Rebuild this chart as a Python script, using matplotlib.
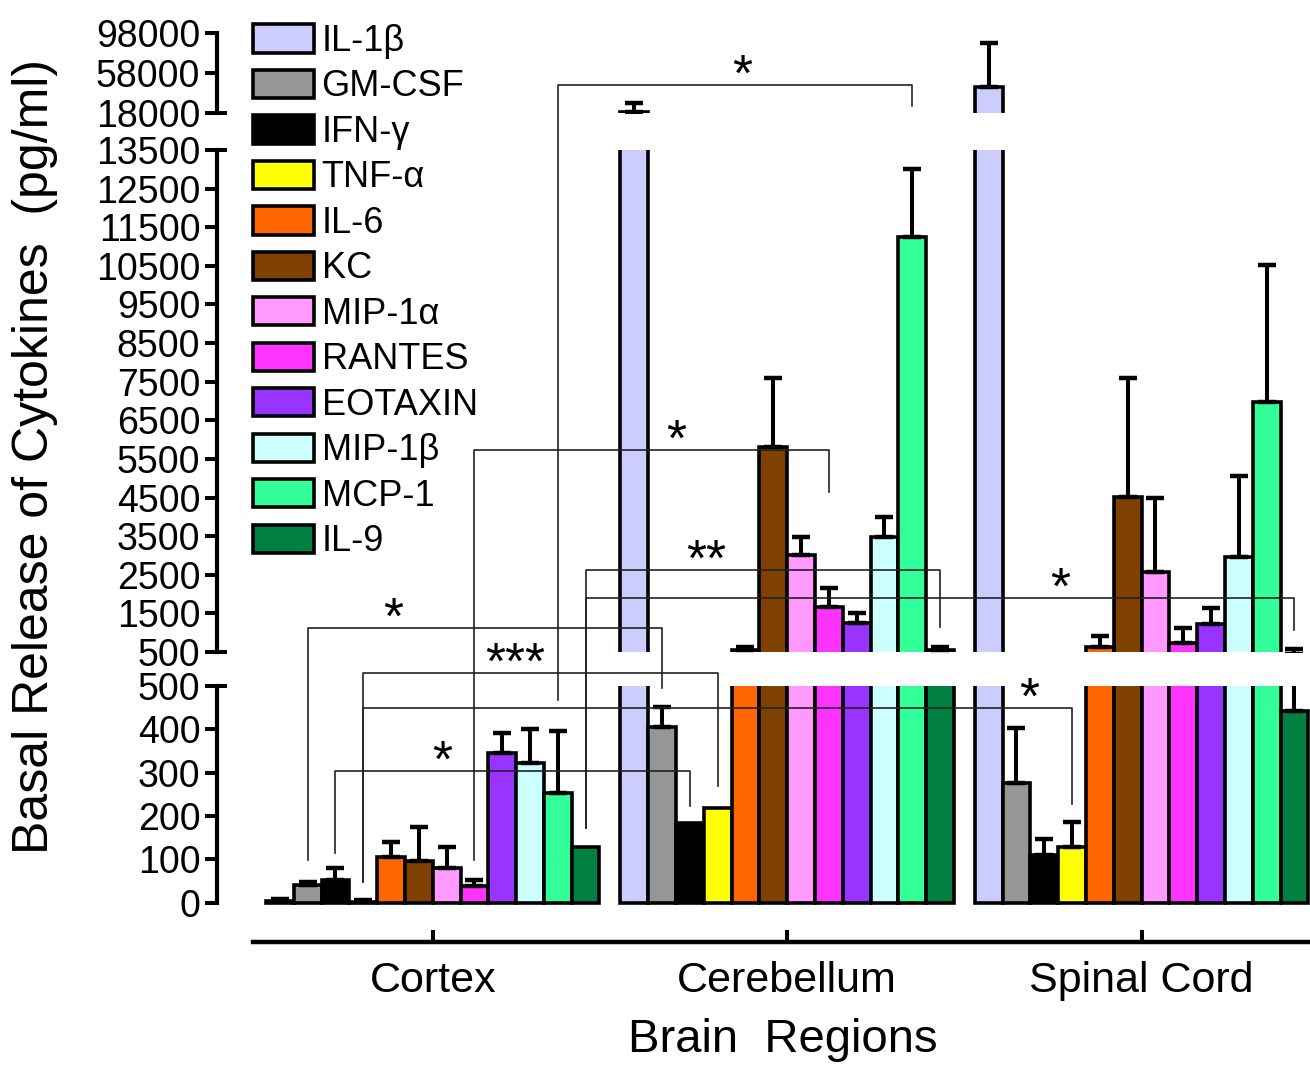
import numpy as np
import matplotlib.pyplot as plt
from matplotlib.lines import Line2D
from matplotlib.patches import Patch

plt.rcParams['font.family'] = ['Liberation Sans', 'DejaVu Sans']

# cytokines, colours and regions
cytokines = ['IL-1β', 'GM-CSF', 'IFN-γ', 'TNF-α', 'IL-6', 'KC', 'MIP-1α',
             'RANTES', 'EOTAXIN', 'MIP-1β', 'MCP-1', 'IL-9']
colors = ['#ccccff', '#969696', '#000000', '#ffff00', '#ff6600', '#804000',
          '#ff99ff', '#ff33ff', '#9933ff', '#ccffff', '#33ff99', '#008040']
regions = ['Cortex', 'Cerebellum', 'Spinal Cord']

# basal release (pg/ml), mean and upper error
cortex_mean = [4, 40, 52, 3, 106, 97, 81, 38, 346, 322, 253, 129]
cortex_err = [4, 8, 28, 3, 34, 78, 48, 15, 46, 78, 143, 0]
cereb_mean = [19000, 405, 184, 219, 540, 5800, 3000, 1660, 1250, 3480, 11250, 540]
cereb_err = [9000, 47, 0, 0, 80, 1800, 470, 490, 260, 520, 1760, 80]
spinal_mean = [44000, 276, 110, 129, 630, 4520, 2570, 730, 1225, 2960, 6980, 442]
spinal_err = [44000, 127, 37, 58, 285, 3080, 1920, 390, 415, 2100, 3550, 136]

means = [cortex_mean, cereb_mean, spinal_mean]
errs = [cortex_err, cereb_err, spinal_err]

# broken y axis segments
lo_ticks = [0, 100, 200, 300, 400, 500]
mid_ticks = list(range(500, 13501, 1000))
hi_ticks = [18000, 58000, 98000]

# significance brackets: cytokine, region a, region b, label,
# line level, left leg end, right leg end (segment, value), label position
brackets = [
    (10, 0, 1, '*', ('hi', 46000), ('lo', 468), ('hi', 25000), 0.52),
    (7, 0, 1, '*', ('mid', 5730), ('lo', 99), ('mid', 4645), 0.57),
    (11, 0, 1, '**', ('mid', 2624), ('lo', 173), ('mid', 1148), 0.34),
    (11, 0, 2, '*', ('mid', 1899), ('lo', 173), ('mid', 1070), 0.67),
    (1, 0, 1, '*', ('mid', 1122), ('lo', 99), ('lo', 495), 0.24),
    (3, 0, 1, '***', ('lo', 530), ('lo', 48), ('lo', 270), 0.43),
    (3, 0, 2, '*', ('lo', 449), ('lo', 48), ('lo', 228), 0.94),
    (2, 0, 1, '*', ('lo', 304), ('lo', 115), ('lo', 224), 0.30),
]

W, H = 1310, 1068
fig = plt.figure(figsize=(W / 100, H / 100), dpi=100)


def px_axes(x0, x1, ytop, ybot):
    return fig.add_axes([x0 / W, 1 - ybot / H, (x1 - x0) / W, (ybot - ytop) / H])


ax_lo = px_axes(217, 1310, 686, 905)
ax_mid = px_axes(217, 1310, 150, 652)
ax_hi = px_axes(217, 1310, 33, 113)
seg = {'lo': ax_lo, 'mid': ax_mid, 'hi': ax_hi}

pitch = 12.75
xlim = (-1.76, 37.56)
n = len(cytokines)

for ax, ylim, ticks in [(ax_lo, (-5, 500), lo_ticks), (ax_mid, (500, 13500), mid_ticks),
                        (ax_hi, (18000, 98000), hi_ticks)]:
    for g in range(len(regions)):
        x = g * pitch + np.arange(n) + 0.5
        m = np.array(means[g], dtype=float)
        e = np.array(errs[g], dtype=float)
        ax.bar(x, m, width=1.0, color=colors, edgecolor='black', linewidth=2.6, zorder=2)
        # only error bars that reach into this segment
        k = (e > 0) & (m + e > ylim[0])
        ax.errorbar(x[k], m[k], yerr=[np.zeros(k.sum()), e[k]], fmt='none', ecolor='black',
                    elinewidth=2.9, capsize=6.8, capthick=3.2, zorder=3)
    ax.set_xlim(*xlim)
    ax.set_ylim(*ylim)
    ax.set_yticks(ticks)
    ax.set_xticks([])
    ax.patch.set_alpha(0)
    for s in ['top', 'right', 'bottom']:
        ax.spines[s].set_visible(False)
    ax.spines['left'].set_linewidth(3.0)
    ax.spines['left'].set_bounds(ticks[0], ticks[-1])
    ax.tick_params(axis='y', direction='out', length=9, width=2.9, labelsize=27, pad=3)

# little caps on the segment ends next to the breaks
for ax, yv in [(ax_lo, 500), (ax_mid, 500), (ax_mid, 13500), (ax_hi, 18000)]:
    ax.plot([0, 0.009], [yv, yv], transform=ax.get_yaxis_transform(), color='black',
            lw=2.9, solid_capstyle='butt', clip_on=False)

# x axis on its own line below the bars
ax_x = px_axes(217, 1310, 938, 942)
ax_x.set_xlim(*xlim)
ax_x.set_yticks([])
ax_x.patch.set_alpha(0)
for s in ['top', 'right', 'left']:
    ax_x.spines[s].set_visible(False)
ax_x.spines['bottom'].set_linewidth(3.2)
ax_x.spines['bottom'].set_bounds(-0.45, xlim[1])
ax_x.set_xticks([g * pitch + n / 2 for g in range(len(regions))])
ax_x.set_xticklabels(regions, fontsize=31)
ax_x.tick_params(axis='x', direction='in', length=9, width=2.9, pad=14)
ax_x.set_xlabel('Brain  Regions', fontsize=34, labelpad=12)
ax_x.xaxis.label.set_x(0.518)

fig.text(35 / W, 1 - 457 / H, 'Basal Release of Cytokines  (pg/ml)', rotation=90,
         fontsize=36, ha='center', va='center')

handles = [Patch(facecolor=c, edgecolor='black', linewidth=2.6) for c in colors]
fig.legend(handles, cytokines, loc='upper left', bbox_to_anchor=(253 / W, 1 - 24 / H),
           frameon=False, fontsize=26, handlelength=1.7, handleheight=0.83,
           handletextpad=0.2, labelspacing=0.29, borderpad=0, borderaxespad=0)

# significance brackets drawn across the broken axis
inv = fig.transFigure.inverted()


def fig_xy(xd, where):
    s, v = where
    return inv.transform(seg[s].transData.transform((xd, v)))


for ci, ga, gb, lab, line_lv, left_end, right_end, frac in brackets:
    xa = ga * pitch + ci + 0.5
    xb = gb * pitch + ci + 0.5
    p1 = fig_xy(xa, left_end)
    p2 = fig_xy(xa, line_lv)
    p3 = fig_xy(xb, line_lv)
    p4 = fig_xy(xb, right_end)
    fig.add_artist(Line2D([p1[0], p2[0], p3[0], p4[0]], [p1[1], p2[1], p3[1], p4[1]],
                          transform=fig.transFigure, color='#222222', lw=1.2, zorder=5))
    tx = p2[0] + frac * (p3[0] - p2[0])
    fig.text(tx, p2[1] - 6 / H, lab, fontsize=37, ha='center', va='baseline', zorder=6)

fig.savefig('out.png', dpi=100)
